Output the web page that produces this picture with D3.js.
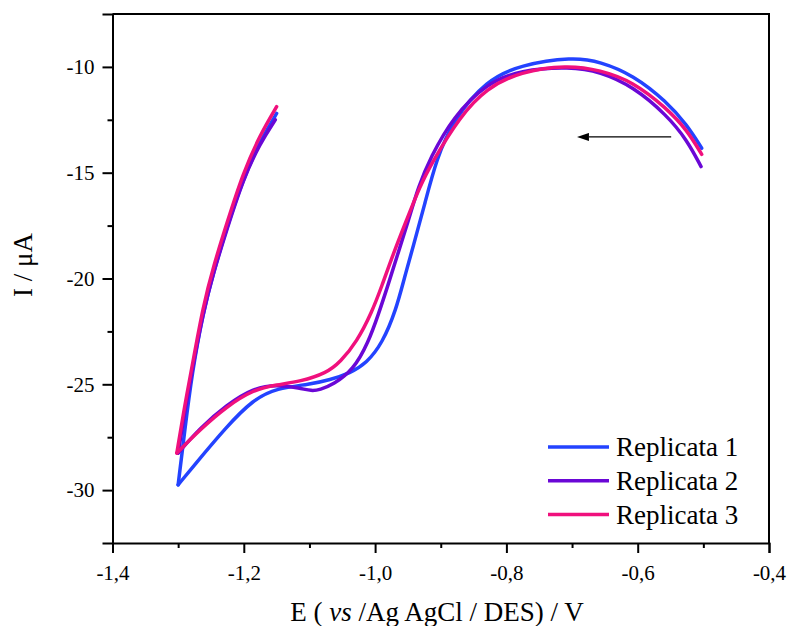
<!DOCTYPE html>
<html>
<head>
<meta charset="utf-8">
<script src="https://cdn.jsdelivr.net/npm/d3@7"></script>
<style>
  body { margin: 0; background: #fff; }
  svg text { font-family: "Liberation Serif", "Times New Roman", serif; fill: #000; }
</style>
</head>
<body>
<svg id="chart" width="787" height="626"></svg>
<script>
// potential (V) and current (uA)
const seriesNames = ["Replicata 1", "Replicata 2", "Replicata 3"];
const seriesColors = ["#2343ff", "#6a07d6", "#f0107d"];

// cathodic sweep (-0.5 -> -1.3 V) and the return branch (-1.3 -> -1.15 V)
const rep1Forward = [
  [-0.5025, -13.84], [-0.525, -12.74], [-0.556, -11.64], [-0.607, -10.38], [-0.657, -9.75],
  [-0.699, -9.53], [-0.779, -9.91], [-0.830, -10.62], [-0.881, -12.5], [-0.907, -14.4],
  [-0.924, -16.44], [-0.942, -18.49], [-0.955, -19.92], [-0.968, -21.48], [-0.989, -23.06],
  [-1.013, -24.0], [-1.038, -24.47], [-1.069, -24.79], [-1.099, -25.0], [-1.150, -25.18],
  [-1.186, -25.73], [-1.226, -26.99], [-1.277, -28.88], [-1.300, -29.75]
];
const rep1Return = [
  [-1.300, -29.75], [-1.290, -27.2], [-1.279, -24.5], [-1.262, -21.6], [-1.246, -19.7],
  [-1.226, -17.6], [-1.201, -15.3], [-1.175, -13.5], [-1.150, -12.2]
];
const rep2Forward = [
  [-0.5035, -14.71], [-0.525, -13.45], [-0.556, -12.27], [-0.607, -10.93], [-0.657, -10.23],
  [-0.703, -9.99], [-0.779, -10.15], [-0.830, -10.77], [-0.881, -12.35], [-0.916, -14.3],
  [-0.934, -15.66], [-0.949, -17.23], [-0.965, -18.80], [-0.981, -20.38], [-0.995, -21.7],
  [-1.010, -23.0], [-1.033, -24.32], [-1.064, -25.02], [-1.084, -25.26], [-1.097, -25.32],
  [-1.114, -25.18], [-1.150, -25.02], [-1.186, -25.18], [-1.226, -25.97], [-1.267, -27.07],
  [-1.300, -28.25]
];
const rep2Return = [
  [-1.300, -28.25], [-1.290, -26.3], [-1.279, -24.4], [-1.262, -21.6], [-1.246, -19.7],
  [-1.226, -17.7], [-1.201, -15.3], [-1.175, -13.6], [-1.152, -12.5]
];
const rep3Forward = [
  [-0.5025, -14.13], [-0.525, -12.98], [-0.556, -11.95], [-0.607, -10.70], [-0.657, -10.15],
  [-0.708, -9.91], [-0.779, -10.23], [-0.830, -11.0], [-0.871, -12.35], [-0.913, -14.5],
  [-0.932, -15.66], [-0.952, -17.23], [-0.972, -18.80], [-0.990, -20.38], [-1.005, -21.6],
  [-1.028, -23.0], [-1.053, -23.95], [-1.074, -24.47], [-1.114, -24.87], [-1.150, -25.02],
  [-1.186, -25.26], [-1.226, -26.05], [-1.267, -27.15], [-1.302, -28.25]
];
const rep3Return = [
  [-1.302, -28.25], [-1.290, -26.0], [-1.279, -24.2], [-1.262, -21.3], [-1.246, -19.4],
  [-1.226, -17.4], [-1.201, -15.0], [-1.175, -13.2], [-1.150, -11.88]
];

const xTicks = [-1.4, -1.2, -1.0, -0.8, -0.6, -0.4];
const xMinorTicks = [-1.3, -1.1, -0.9, -0.7, -0.5];
const yTicks = [-10, -15, -20, -25, -30];
const yMinorTicks = [-12.5, -17.5, -22.5, -27.5];
const arrowFrom = [-0.549, -13.31];
const arrowTo = [-0.691, -13.31];

const replicates = [
  [rep1Forward, rep1Return],
  [rep2Forward, rep2Return],
  [rep3Forward, rep3Return]
];

const plot = { left: 112.5, right: 769, top: 14, bottom: 543 };
const serif = "'Liberation Serif', 'Times New Roman', serif";

const svg = d3.select("#chart");

const x = d3.scaleLinear().domain([-1.4, -0.4]).range([plot.left, plot.right]);
const y = d3.scaleLinear().domain([-32.5, -7.5]).range([plot.bottom, plot.top]);

const fmtX = d => d.toFixed(1).replace(".", ",");
const fmtY = d => String(d);

// curves
const line = d3.line()
  .x(d => x(d[0]))
  .y(d => y(d[1]))
  .curve(d3.curveBasis);

replicates.forEach((sweeps, i) => {
  sweeps.forEach(pts => {
    svg.append("path")
      .datum(pts)
      .attr("d", line)
      .attr("fill", "none")
      .attr("stroke", seriesColors[i])
      .attr("stroke-width", 3.5)
      .attr("stroke-linejoin", "round")
      .attr("stroke-linecap", "round");
  });
});

// frame (top + right)
svg.append("path")
  .attr("d", `M${plot.left},${plot.top}H${plot.right}V${plot.bottom}`)
  .attr("fill", "none")
  .attr("stroke", "#000")
  .attr("stroke-width", 2);

// bottom axis
svg.append("g")
  .attr("transform", `translate(0,${plot.bottom})`)
  .call(d3.axisBottom(x).tickValues(xTicks).tickFormat(fmtX).tickSizeOuter(0).tickSize(10).tickPadding(12));
svg.append("g")
  .attr("transform", `translate(0,${plot.bottom})`)
  .call(d3.axisBottom(x).tickValues(xMinorTicks).tickFormat("").tickSizeOuter(0).tickSize(5))
  .select(".domain").remove();

// left axis
svg.append("g")
  .attr("transform", `translate(${plot.left},0)`)
  .call(d3.axisLeft(y).tickValues(yTicks).tickFormat(fmtY).tickSizeOuter(0).tickSize(10).tickPadding(8));
svg.append("g")
  .attr("transform", `translate(${plot.left},0)`)
  .call(d3.axisLeft(y).tickValues(yMinorTicks).tickFormat("").tickSizeOuter(0).tickSize(5))
  .select(".domain").remove();

svg.selectAll(".domain").attr("stroke", "#000").attr("stroke-width", 2);
svg.selectAll(".tick line").attr("stroke", "#000").attr("stroke-width", 2);
svg.selectAll(".tick text")
  .style("font-family", serif)
  .style("font-size", "21px")
  .style("fill", "#000");

// axis titles
svg.append("text")
  .attr("x", 437)
  .attr("y", 621)
  .attr("text-anchor", "middle")
  .style("font-size", "27px")
  .call(t => {
    t.append("tspan").text("E ( ");
    t.append("tspan").style("font-style", "italic").text("vs");
    t.append("tspan").text(" /Ag AgCl / DES) / V");
  });

svg.append("text")
  .attr("transform", "translate(32,265) rotate(-90)")
  .attr("text-anchor", "middle")
  .style("font-size", "27px")
  .text("I / \u03bcA");

// sweep direction arrow
svg.append("defs").append("marker")
  .attr("id", "head")
  .attr("viewBox", "0 0 12 8")
  .attr("refX", 0)
  .attr("refY", 4)
  .attr("markerWidth", 12)
  .attr("markerHeight", 8)
  .attr("markerUnits", "userSpaceOnUse")
  .attr("orient", "auto")
  .append("path")
  .attr("d", "M0,0L12,4L0,8Z")
  .attr("fill", "#000");

svg.append("line")
  .attr("x1", x(arrowFrom[0]))
  .attr("y1", y(arrowFrom[1]))
  .attr("x2", x(arrowTo[0]) + 11)
  .attr("y2", y(arrowTo[1]))
  .attr("stroke", "#000")
  .attr("stroke-width", 1.3)
  .attr("marker-end", "url(#head)");

// legend
const legend = svg.append("g").attr("transform", "translate(548,447)");
seriesNames.forEach((name, i) => {
  const g = legend.append("g").attr("transform", `translate(0,${i * 33.8})`);
  g.append("line")
    .attr("x1", 0).attr("x2", 61)
    .attr("stroke", seriesColors[i])
    .attr("stroke-width", 3.5);
  g.append("text")
    .attr("x", 68)
    .attr("y", 9)
    .style("font-size", "27px")
    .text(name);
});
</script>
</body>
</html>
